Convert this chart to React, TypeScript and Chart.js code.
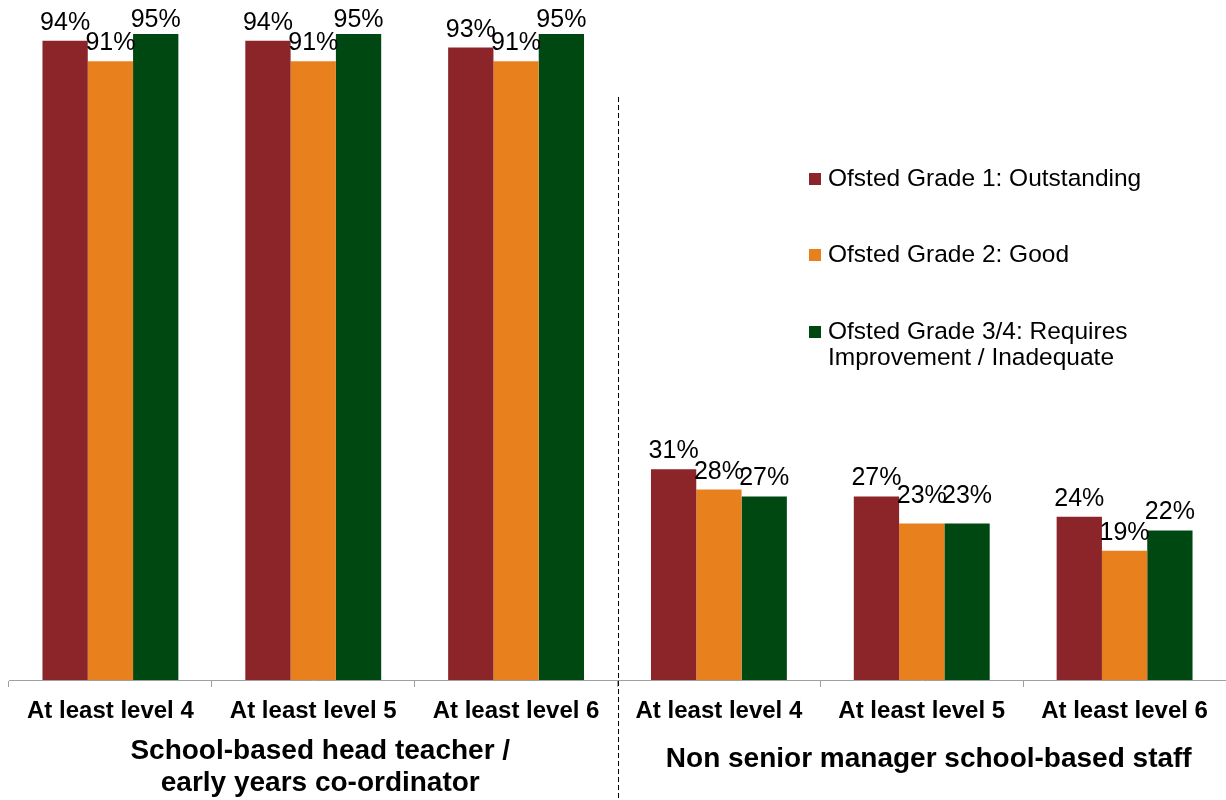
import React, { useEffect, useRef } from "react";
import { Chart, registerables } from "chart.js";

Chart.register(...registerables);

const categories = [
  "At least level 4",
  "At least level 5",
  "At least level 6",
  "At least level 4",
  "At least level 5",
  "At least level 6",
];
const grade1 = [94, 94, 93, 31, 27, 24];
const grade2 = [91, 91, 91, 28, 23, 19];
const grade34 = [95, 95, 95, 27, 23, 22];
const seriesNames = [
  "Ofsted Grade 1: Outstanding",
  "Ofsted Grade 2: Good",
  "Ofsted Grade 3/4: Requires Improvement / Inadequate",
];
const legendLines = [
  ["Ofsted Grade 1: Outstanding"],
  ["Ofsted Grade 2: Good"],
  ["Ofsted Grade 3/4: Requires", "Improvement / Inadequate"],
];
const groupLabelLeft = ["School-based head teacher /", "early years co-ordinator"];
const groupLabelRight = ["Non senior manager school-based staff"];
const colors = ["#8B2529", "#E8801E", "#004812"];

const FONT = "'Liberation Sans', Arial, sans-serif";

// small label nudges (dataset-index -> extra px upward), mimicking label placement in the source
const labelNudge: Record<string, number> = { "1-4": 10, "2-4": 10, "2-0": -4, "2-1": -4, "2-2": -4 };

const overlayPlugin = {
  id: "overlay",
  afterDraw(chart: any) {
    const ctx = chart.ctx as CanvasRenderingContext2D;
    const xs = chart.scales.x;
    ctx.save();

    // data labels
    ctx.fillStyle = "#000";
    ctx.font = `25px ${FONT}`;
    ctx.textAlign = "center";
    ctx.textBaseline = "alphabetic";
    chart.data.datasets.forEach((ds: any, di: number) => {
      const meta = chart.getDatasetMeta(di);
      meta.data.forEach((bar: any, i: number) => {
        const n = labelNudge[`${di}-${i}`] || 0;
        ctx.fillText(`${ds.data[i]}%`, bar.x, bar.y - 11 - n);
      });
    });

    // dashed separator
    const xMid = Math.round((xs.getPixelForValue(2) + xs.getPixelForValue(3)) / 2) + 0.5;
    ctx.strokeStyle = "#000";
    ctx.lineWidth = 1;
    ctx.setLineDash([5, 3]);
    ctx.beginPath();
    ctx.moveTo(xMid, 97);
    ctx.lineTo(xMid, 800);
    ctx.stroke();
    ctx.setLineDash([]);

    // group labels
    ctx.textBaseline = "middle";
    ctx.font = `bold 28px ${FONT}`;
    const leftC = (xs.getPixelForValue(0) + xs.getPixelForValue(2)) / 2 + 7;
    const rightC = (xs.getPixelForValue(3) + xs.getPixelForValue(5)) / 2 + 7;
    groupLabelLeft.forEach((t, i) => ctx.fillText(t, leftC, 751 + i * 32));
    groupLabelRight.forEach((t, i) => ctx.fillText(t, rightC, 759 + i * 32));

    // legend
    ctx.font = `24.5px ${FONT}`;
    ctx.textAlign = "left";
    const legendY = [179, 255, 332];
    legendLines.forEach((lines, i) => {
      ctx.fillStyle = colors[i];
      ctx.fillRect(809, legendY[i] - 6, 12, 12);
      ctx.fillStyle = "#000";
      lines.forEach((t, j) => ctx.fillText(t, 828, legendY[i] + j * 26));
    });

    ctx.restore();
  },
};

export default function App() {
  const ref = useRef<HTMLCanvasElement | null>(null);
  useEffect(() => {
    if (!ref.current) return;
    const chart = new Chart(ref.current, {
      type: "bar",
      data: {
        labels: categories,
        datasets: [grade1, grade2, grade34].map((d, i) => ({
          label: seriesNames[i],
          data: d,
          backgroundColor: colors[i],
          borderWidth: 0,
          categoryPercentage: 0.67,
          barPercentage: 1,
        })),
      },
      options: {
        animation: false,
        responsive: true,
        maintainAspectRatio: false,
        layout: { padding: { left: 9, right: 0, top: 0, bottom: 0 } },
        plugins: { legend: { display: false }, tooltip: { enabled: false } },
        scales: {
          y: { display: false, min: 0, max: 100 },
          x: {
            grid: {
              offset: true,
              drawOnChartArea: false,
              tickLength: 7,
              color: "#A0A0A0",
            },
            border: { color: "#A0A0A0" },
            ticks: {
              color: "#000",
              font: { family: FONT, size: 24, weight: "bold" },
              padding: 10,
              maxRotation: 0,
              autoSkip: false,
            },
            afterFit: (scale: any) => {
              scale.height = 120;
            },
          },
        },
      },
      plugins: [overlayPlugin],
    });
    return () => chart.destroy();
  }, []);
  return (
    <div style={{ position: "absolute", left: 0, top: 0, width: 1226, height: 800, background: "#fff" }}>
      <canvas ref={ref} />
    </div>
  );
}
